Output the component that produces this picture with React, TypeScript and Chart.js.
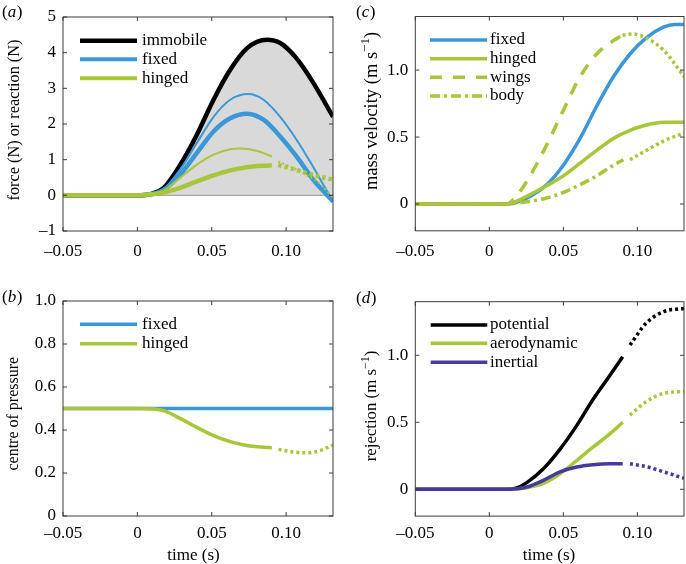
import React, { useEffect, useRef } from 'react';
import { Chart, registerables } from 'chart.js';
Chart.register(...registerables);

const FONT = "'Liberation Serif', 'Times New Roman', Times, serif";
const BLUE = '#3A98D8';
const GREEN = '#A8C63A';
const PURPLE = '#453B9C';
const BLACK = '#000000';
const FILL_GREY = '#D9D9D9';
const ZERO_GREY = '#A6A6A6';
const AXIS = '#3C3C3C';

// ---- shared x axis ----
const xTicks = [-0.05, 0, 0.05, 0.1];
const xTickLabels = ['\u20130.05', '0', '0.05', '0.10'];
const X_MIN = -0.05;
const X_MAX = 0.1315;

// ---- (a) force / reaction ----
const yTicksA = [-1, 0, 1, 2, 3, 4, 5];
const yTickLabelsA = ['\u20131', '0', '1', '2', '3', '4', '5'];
const tImmobile = [-0.05, 0, 0.005, 0.01, 0.0175, 0.0287, 0.04, 0.0512, 0.0624, 0.0736, 0.0871, 0.096, 0.107, 0.1185, 0.1315];
const immobile = [0, 0, 0.01, 0.05, 0.2, 0.85, 1.7, 2.68, 3.52, 4.12, 4.36, 4.27, 3.84, 3.14, 2.2];
const tFixedThin = [-0.05, 0, 0.006, 0.0175, 0.0287, 0.04, 0.0512, 0.0624, 0.0747, 0.0848, 0.096, 0.107, 0.118, 0.125, 0.1315];
const fixedThin = [0, 0, 0.01, 0.17, 0.72, 1.47, 2.2, 2.68, 2.84, 2.68, 2.2, 1.56, 0.81, 0.3, -0.17];
const tFixedThick = [-0.05, 0, 0.006, 0.0175, 0.0287, 0.04, 0.0512, 0.0624, 0.0736, 0.0848, 0.096, 0.107, 0.118, 0.125, 0.1315];
const fixedThick = [0, 0, 0.01, 0.15, 0.58, 1.19, 1.79, 2.16, 2.29, 2.12, 1.65, 1.09, 0.45, 0.12, -0.17];
const tHingedThin = [-0.05, 0, 0.006, 0.0175, 0.0287, 0.04, 0.0512, 0.0624, 0.069, 0.08, 0.0904];
const hingedThin = [0, 0, 0.01, 0.13, 0.49, 0.86, 1.14, 1.29, 1.31, 1.25, 1.09];
const tHingedThinDot = [0.0947, 0.105, 0.115, 0.122, 0.1315];
const hingedThinDot = [0.95, 0.76, 0.54, 0.35, -0.06];
const tHingedThick = [-0.05, 0, 0.0063, 0.0175, 0.0287, 0.04, 0.0512, 0.0624, 0.0736, 0.0848, 0.0904];
const hingedThick = [0, 0, 0.02, 0.08, 0.21, 0.39, 0.56, 0.7, 0.79, 0.83, 0.84];
const tHingedThickDot = [0.0947, 0.107, 0.118, 0.1315];
const hingedThickDot = [0.85, 0.71, 0.57, 0.44];
const tZero = [0, 0.1315];
const zeroLine = [0, 0];

// ---- (b) centre of pressure ----
const yTicksB = [0, 0.2, 0.4, 0.6, 0.8, 1.0];
const yTickLabelsB = ['0', '0.2', '0.4', '0.6', '0.8', '1.0'];
const tCopFixed = [-0.05, 0.1315];
const copFixed = [0.5, 0.5];
const tCopHinged = [-0.05, 0, 0.008, 0.0175, 0.0287, 0.04, 0.0512, 0.0624, 0.0736, 0.0848, 0.0904];
const copHinged = [0.5, 0.5, 0.499, 0.49, 0.454, 0.412, 0.374, 0.346, 0.328, 0.32, 0.318];
const tCopHingedDot = [0.0949, 0.105, 0.114, 0.122, 0.1315];
const copHingedDot = [0.31, 0.298, 0.294, 0.302, 0.33];

// ---- (c) mass velocity ----
const yTicksCD = [0, 0.5, 1.0];
const yTickLabelsCD = ['0', '0.5', '1.0'];
const tVelFixed = [-0.05, 0, 0.012, 0.0162, 0.0275, 0.0387, 0.05, 0.0613, 0.0725, 0.0838, 0.095, 0.106, 0.1176, 0.125, 0.1315];
const velFixed = [0, 0, 0, 0.005, 0.057, 0.144, 0.29, 0.49, 0.73, 0.95, 1.12, 1.24, 1.32, 1.34, 1.34];
const tVelHinged = [-0.05, 0, 0.012, 0.0162, 0.0275, 0.0387, 0.05, 0.0613, 0.0725, 0.0838, 0.095, 0.106, 0.1176, 0.1315];
const velHinged = [0, 0, 0, 0.01, 0.07, 0.136, 0.21, 0.305, 0.4, 0.49, 0.55, 0.59, 0.61, 0.61];
const tVelWings = [-0.05, 0, 0.0118, 0.016, 0.0207, 0.0275, 0.0387, 0.05, 0.0613, 0.0725, 0.0838, 0.0885];
const velWings = [0, 0, 0, 0.03, 0.094, 0.21, 0.44, 0.7, 0.95, 1.12, 1.22, 1.25];
const tVelWingsDot = [0.09, 0.0962, 0.106, 0.1176, 0.125, 0.1315];
const velWingsDot = [1.26, 1.27, 1.24, 1.15, 1.05, 0.95];
const tVelBody = [-0.05, 0, 0.012, 0.0162, 0.0275, 0.0387, 0.05, 0.0613, 0.0725, 0.0838, 0.0906];
const velBody = [0, 0, 0, 0.003, 0.02, 0.045, 0.086, 0.144, 0.21, 0.29, 0.33];
const tVelBodyDot = [0.095, 0.106, 0.1176, 0.1315];
const velBodyDot = [0.33, 0.4, 0.47, 0.53];

// ---- (d) rejection ----
const tRej = [-0.05, 0, 0.012, 0.018, 0.0253, 0.0365, 0.0478, 0.059, 0.07, 0.0814, 0.0901];
const rejPotential = [0, 0, 0, 0.008, 0.05, 0.153, 0.3, 0.475, 0.67, 0.85, 0.99];
const rejAero = [0, 0, 0, 0.002, 0.012, 0.045, 0.116, 0.215, 0.314, 0.413, 0.5];
const rejInertial = [0, 0, 0, 0.004, 0.017, 0.067, 0.13, 0.166, 0.183, 0.19, 0.19];
const tRejDot = [0.095, 0.106, 0.1176, 0.1315];
const rejPotentialDot = [1.077, 1.24, 1.325, 1.35];
const rejAeroDot = [0.554, 0.654, 0.716, 0.73];
const rejInertialDot = [0.19, 0.169, 0.131, 0.082];

const W = 343;
const H = 282;
const XAXIS_H = 44;
const TICK_LEN = 4;

const DOT = [3, 3];
const DASH = [12, 10];
const DASHDOT = [10, 4, 3, 4];

const pts = (t: number[], v: number[]) => t.map((x, i) => ({ x, y: v[i] }));

function line(t: number[], v: number[], color: string, width: number, dash: number[] = [], extra: any = {}) {
  return {
    data: pts(t, v),
    borderColor: color,
    backgroundColor: color,
    borderWidth: width,
    borderDash: dash,
    pointRadius: 0,
    fill: false,
    ...extra,
  };
}

type LegendItem = { label: string; color: string; width: number; dash?: number[] };
type Panel = {
  key: string;
  letter: string;
  pos: [number, number];
  area: [number, number, number, number];
  yRange: [number, number];
  yTicks: number[];
  yTickLabels: string[];
  datasets: any[];
  legend: LegendItem[];
  legendX: [number, number, number];
  legendY: number[];
  labelPos: [number, number];
  yTitle: [string, boolean][];
  yTitlePos: [number, number];
  yTitleSize: number;
  xTitlePos?: [number, number];
  xPad: number;
};

const panels: Panel[] = [
  {
    key: 'a', letter: 'a', pos: [0, 0], area: [63, 17, 333, 231],
    yRange: [-1, 5], yTicks: yTicksA, yTickLabels: yTickLabelsA,
    datasets: [
      line(tHingedThickDot, hingedThickDot, GREEN, 4.5, [3.5, 3]),
      line(tHingedThinDot, hingedThinDot, GREEN, 2, [2, 2.5]),
      line(tHingedThick, hingedThick, GREEN, 4.5),
      line(tHingedThin, hingedThin, GREEN, 2),
      line(tFixedThick, fixedThick, BLUE, 4.5),
      line(tFixedThin, fixedThin, BLUE, 2),
      line(tImmobile, immobile, BLACK, 4.5, [], { fill: 'origin', backgroundColor: FILL_GREY }),
      line(tZero, zeroLine, ZERO_GREY, 1.2),
    ],
    legend: [
      { label: 'immobile', color: BLACK, width: 4.5 },
      { label: 'fixed', color: BLUE, width: 4 },
      { label: 'hinged', color: GREEN, width: 4 },
    ],
    legendX: [80, 137, 142], legendY: [40.7, 59.3, 78.3],
    labelPos: [2, 13],
    yTitle: [['force (N) or reaction (N)', false]], yTitlePos: [14, 120], yTitleSize: 16.3,
    xPad: 10.8,
  },
  {
    key: 'c', letter: 'c', pos: [343, 0], area: [72.3, 16.5, 341, 230.8],
    yRange: [-0.2, 1.4], yTicks: yTicksCD, yTickLabels: yTickLabelsCD,
    datasets: [
      line(tVelWingsDot, velWingsDot, GREEN, 3.5, DOT),
      line(tVelWings, velWings, GREEN, 3.5, DASH),
      line(tVelBodyDot, velBodyDot, GREEN, 3.5, DOT),
      line(tVelBody, velBody, GREEN, 3.5, DASHDOT),
      line(tVelHinged, velHinged, GREEN, 3.5),
      line(tVelFixed, velFixed, BLUE, 3.5),
    ],
    legend: [
      { label: 'fixed', color: BLUE, width: 3.5 },
      { label: 'hinged', color: GREEN, width: 3.5 },
      { label: 'wings', color: GREEN, width: 3.5, dash: [12, 11] },
      { label: 'body', color: GREEN, width: 3.5, dash: DASHDOT },
    ],
    legendX: [87, 144, 147], legendY: [40, 58.7, 77.3, 96],
    labelPos: [13, 13],
    yTitle: [['mass velocity (m s', false], ['\u22121', true], [')', false]], yTitlePos: [28, 111], yTitleSize: 18.5,
    xPad: 11,
  },
  {
    key: 'b', letter: 'b', pos: [0, 282], area: [63, 19, 333, 234],
    yRange: [0, 1], yTicks: yTicksB, yTickLabels: yTickLabelsB,
    datasets: [
      line(tCopHingedDot, copHingedDot, GREEN, 3.5, DOT),
      line(tCopHinged, copHinged, GREEN, 3.5),
      line(tCopFixed, copFixed, BLUE, 3.5),
    ],
    legend: [
      { label: 'fixed', color: BLUE, width: 3.5 },
      { label: 'hinged', color: GREEN, width: 3.5 },
    ],
    legendX: [80, 137, 142], legendY: [42.3, 61.7],
    labelPos: [2, 15.8],
    yTitle: [['centre of pressure', false]], yTitlePos: [13, 131.7], yTitleSize: 16,
    xTitlePos: [193.5, 273.5],
    xPad: 7.3,
  },
  {
    key: 'd', letter: 'd', pos: [343, 282], area: [72.3, 19.7, 341, 234.1],
    yRange: [-0.2, 1.4], yTicks: yTicksCD, yTickLabels: yTickLabelsCD,
    datasets: [
      line(tRejDot, rejInertialDot, PURPLE, 3.5, DOT),
      line(tRejDot, rejAeroDot, GREEN, 3.5, DOT),
      line(tRejDot, rejPotentialDot, BLACK, 3.5, DOT),
      line(tRej, rejInertial, PURPLE, 3.5),
      line(tRej, rejAero, GREEN, 3.5),
      line(tRej, rejPotential, BLACK, 3.5),
    ],
    legend: [
      { label: 'potential', color: BLACK, width: 3.5 },
      { label: 'aerodynamic', color: GREEN, width: 3.5 },
      { label: 'inertial', color: PURPLE, width: 3.5 },
    ],
    legendX: [87.7, 144.3, 147], legendY: [43, 61.3, 80.3],
    labelPos: [13, 16.7],
    yTitle: [['rejection (m s', false], ['\u22121', true], [')', false]], yTitlePos: [28, 124], yTitleSize: 16.8,
    xTitlePos: [206, 273.5],
    xPad: 7.2,
  },
];

function decoPlugin(p: Panel) {
  return {
    id: 'deco_' + p.key,
    afterDraw(chart: any) {
      const ctx = chart.ctx as CanvasRenderingContext2D;
      const { left, top, right, bottom } = chart.chartArea;
      const xs = chart.scales.x;
      const ys = chart.scales.y;
      ctx.save();
      // box
      ctx.strokeStyle = AXIS;
      ctx.lineWidth = 1;
      ctx.setLineDash([]);
      ctx.strokeRect(left, top, right - left, bottom - top);
      // inward ticks on all sides
      ctx.beginPath();
      xTicks.forEach((v) => {
        const px = xs.getPixelForValue(v);
        ctx.moveTo(px, bottom);
        ctx.lineTo(px, bottom - TICK_LEN);
        ctx.moveTo(px, top);
        ctx.lineTo(px, top + TICK_LEN);
      });
      p.yTicks.forEach((v) => {
        const py = ys.getPixelForValue(v);
        ctx.moveTo(left, py);
        ctx.lineTo(left + TICK_LEN, py);
        ctx.moveTo(right, py);
        ctx.lineTo(right - TICK_LEN, py);
      });
      ctx.stroke();

      // legend
      const [x1, x2, tx] = p.legendX;
      p.legend.forEach((it, i) => {
        const y = p.legendY[i];
        ctx.beginPath();
        ctx.strokeStyle = it.color;
        ctx.lineWidth = it.width;
        ctx.lineCap = 'butt';
        ctx.setLineDash(it.dash || []);
        ctx.moveTo(x1, y);
        ctx.lineTo(x2, y);
        ctx.stroke();
        ctx.setLineDash([]);
        ctx.fillStyle = '#000';
        ctx.font = `17px ${FONT}`;
        ctx.textAlign = 'left';
        ctx.textBaseline = 'middle';
        ctx.fillText(it.label, tx, y);
      });

      // panel label (x)
      ctx.fillStyle = '#000';
      ctx.textBaseline = 'middle';
      ctx.textAlign = 'left';
      let lx = p.labelPos[0];
      const ly = p.labelPos[1];
      ctx.font = `17px ${FONT}`;
      ctx.fillText('(', lx, ly);
      lx += ctx.measureText('(').width;
      ctx.font = `italic 17px ${FONT}`;
      ctx.fillText(p.letter, lx, ly);
      lx += ctx.measureText(p.letter).width + 0.5;
      ctx.font = `17px ${FONT}`;
      ctx.fillText(')', lx, ly);

      // y title
      const fs = p.yTitleSize;
      const ss = Math.round(fs * 0.7);
      ctx.save();
      ctx.translate(p.yTitlePos[0], p.yTitlePos[1]);
      ctx.rotate(-Math.PI / 2);
      const widths = p.yTitle.map(([s, sup]) => {
        ctx.font = sup ? `${ss}px ${FONT}` : `${fs}px ${FONT}`;
        return ctx.measureText(s).width;
      });
      const total = widths.reduce((a, b) => a + b, 0);
      let cx = -total / 2;
      ctx.textAlign = 'left';
      ctx.textBaseline = 'alphabetic';
      p.yTitle.forEach(([s, sup], i) => {
        ctx.font = sup ? `${ss}px ${FONT}` : `${fs}px ${FONT}`;
        ctx.fillText(s, cx, sup ? -fs * 0.09 : fs * 0.32);
        cx += widths[i];
      });
      ctx.restore();

      // x title
      if (p.xTitlePos) {
        ctx.font = `17px ${FONT}`;
        ctx.textAlign = 'center';
        ctx.textBaseline = 'middle';
        ctx.fillText('time (s)', p.xTitlePos[0], p.xTitlePos[1]);
      }
      ctx.restore();
    },
  };
}

function buildConfig(p: Panel): any {
  const [l, t, r, b] = p.area;
  return {
    type: 'line',
    data: { datasets: p.datasets.map((d, i) => ({ ...d, order: i })) },
    options: {
      animation: false,
      responsive: false,
      maintainAspectRatio: false,
      events: [],
      layout: { padding: { left: 0, top: t, right: W - r, bottom: H - b - XAXIS_H } },
      plugins: {
        legend: { display: false },
        tooltip: { enabled: false },
        filler: { drawTime: 'beforeDatasetsDraw' },
      },
      elements: {
        point: { radius: 0 },
        line: { cubicInterpolationMode: 'monotone', borderCapStyle: 'butt', borderJoinStyle: 'round' },
      },
      scales: {
        x: {
          type: 'linear',
          min: X_MIN,
          max: X_MAX,
          grid: { display: false, drawTicks: false },
          border: { display: false },
          ticks: {
            color: '#000',
            font: { family: FONT, size: 17 },
            padding: p.xPad,
            maxRotation: 0,
            autoSkip: false,
            callback: (_v: any, i: number) => xTickLabels[i],
          },
          afterBuildTicks: (s: any) => {
            s.ticks = xTicks.map((v) => ({ value: v }));
          },
          afterFit: (s: any) => {
            s.height = XAXIS_H;
            s.paddingLeft = 0;
            s.paddingRight = 0;
          },
        },
        y: {
          type: 'linear',
          min: p.yRange[0],
          max: p.yRange[1],
          grid: { display: false, drawTicks: false },
          border: { display: false },
          ticks: {
            color: '#000',
            font: { family: FONT, size: 17 },
            padding: 7,
            autoSkip: false,
            callback: (_v: any, i: number) => p.yTickLabels[i],
          },
          afterBuildTicks: (s: any) => {
            s.ticks = p.yTicks.map((v) => ({ value: v }));
          },
          afterFit: (s: any) => {
            s.width = l;
            s.paddingTop = 0;
            s.paddingBottom = 0;
          },
        },
      },
    },
    plugins: [decoPlugin(p)],
  };
}

function PanelChart({ p }: { p: Panel }) {
  const ref = useRef<HTMLCanvasElement>(null);
  useEffect(() => {
    const chart = new Chart(ref.current as HTMLCanvasElement, buildConfig(p));
    return () => chart.destroy();
  }, [p]);
  return (
    <canvas
      ref={ref}
      width={W}
      height={H}
      style={{ position: 'absolute', left: p.pos[0], top: p.pos[1], width: W, height: H, display: 'block' }}
    />
  );
}

export default function App() {
  return (
    <div style={{ position: 'absolute', left: 0, top: 0, width: 686, height: 564, background: '#fff', overflow: 'hidden' }}>
      {panels.map((p) => (
        <PanelChart key={p.key} p={p} />
      ))}
    </div>
  );
}
